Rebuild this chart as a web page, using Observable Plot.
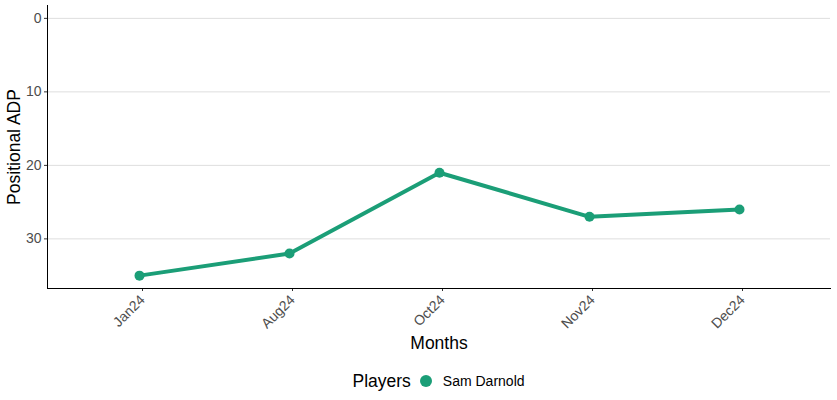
<!DOCTYPE html>
<html>
<head>
<meta charset="utf-8">
<script src="https://cdn.jsdelivr.net/npm/d3@7"></script>
<script src="https://cdn.jsdelivr.net/npm/@observablehq/plot@0.6"></script>
<style>
  body { margin: 0; background: #fff; font-family: "Liberation Sans", Arial, sans-serif; }
  #chart { width: 837px; }
  .legend { display: flex; align-items: center; justify-content: center; height: 30px; margin-top: 4px; margin-left: 40px; }
  .legend .title { font-size: 17.5px; color: #000; margin-right: 9px; }
  .legend .sw { width: 12px; height: 12px; border-radius: 50%; background: #1b9e77; margin-right: 11px; }
  .legend .lbl { font-size: 14px; color: #000; }
</style>
</head>
<body>
<div id="chart"></div>
<script>
const months = ["Jan24", "Aug24", "Oct24", "Nov24", "Dec24"];
const adp = [35, 32, 21, 27, 26];
const player = "Sam Darnold";
const yTicks = [0, 10, 20, 30];
const color = "#1b9e77";

const data = months.map((m, i) => ({month: m, adp: adp[i], player}));

const plot = Plot.plot({
  width: 837,
  height: 362,
  marginLeft: 47,
  marginRight: 7,
  marginTop: 5,
  marginBottom: 74,
  style: {fontFamily: "Liberation Sans, Arial, sans-serif", fontSize: "14px", background: "#fff"},
  x: {type: "point", domain: months, padding: 0.6, label: null},
  y: {domain: [-1.75, 36.75], reverse: true, label: null},
  marks: [
    Plot.gridY(yTicks, {stroke: "#dedede", strokeOpacity: 1, strokeWidth: 1}),
    Plot.axisY(yTicks, {tickSize: 3, tickPadding: 3, fill: "#4d4d4d", stroke: "#333", fontSize: 14, label: null}),
    Plot.axisX({tickSize: 3, tickPadding: 6, tickRotate: -45, fill: "#4d4d4d", stroke: "#333", fontSize: 14, label: null, dx: 3}),
    Plot.frame({anchor: "left", stroke: "#000", strokeWidth: 1}),
    Plot.frame({anchor: "bottom", stroke: "#000", strokeWidth: 1}),
    Plot.line(data, {x: "month", y: "adp", stroke: color, strokeWidth: 4, curve: "linear"}),
    Plot.dot(data, {x: "month", y: "adp", fill: color, r: 5}),
    Plot.text(["Months"], {frameAnchor: "bottom", dy: 60, fontSize: 17.5, fill: "#000"}),
    Plot.text(["Positional ADP"], {frameAnchor: "left", dx: -33, rotate: -90, textAnchor: "middle", fontSize: 17.5, fill: "#000"})
  ]
});
document.getElementById("chart").appendChild(plot);

const legend = document.createElement("div");
legend.className = "legend";
legend.innerHTML = `<span class="title">Players</span><span class="sw"></span><span class="lbl">${player}</span>`;
document.getElementById("chart").appendChild(legend);
</script>
</body>
</html>
